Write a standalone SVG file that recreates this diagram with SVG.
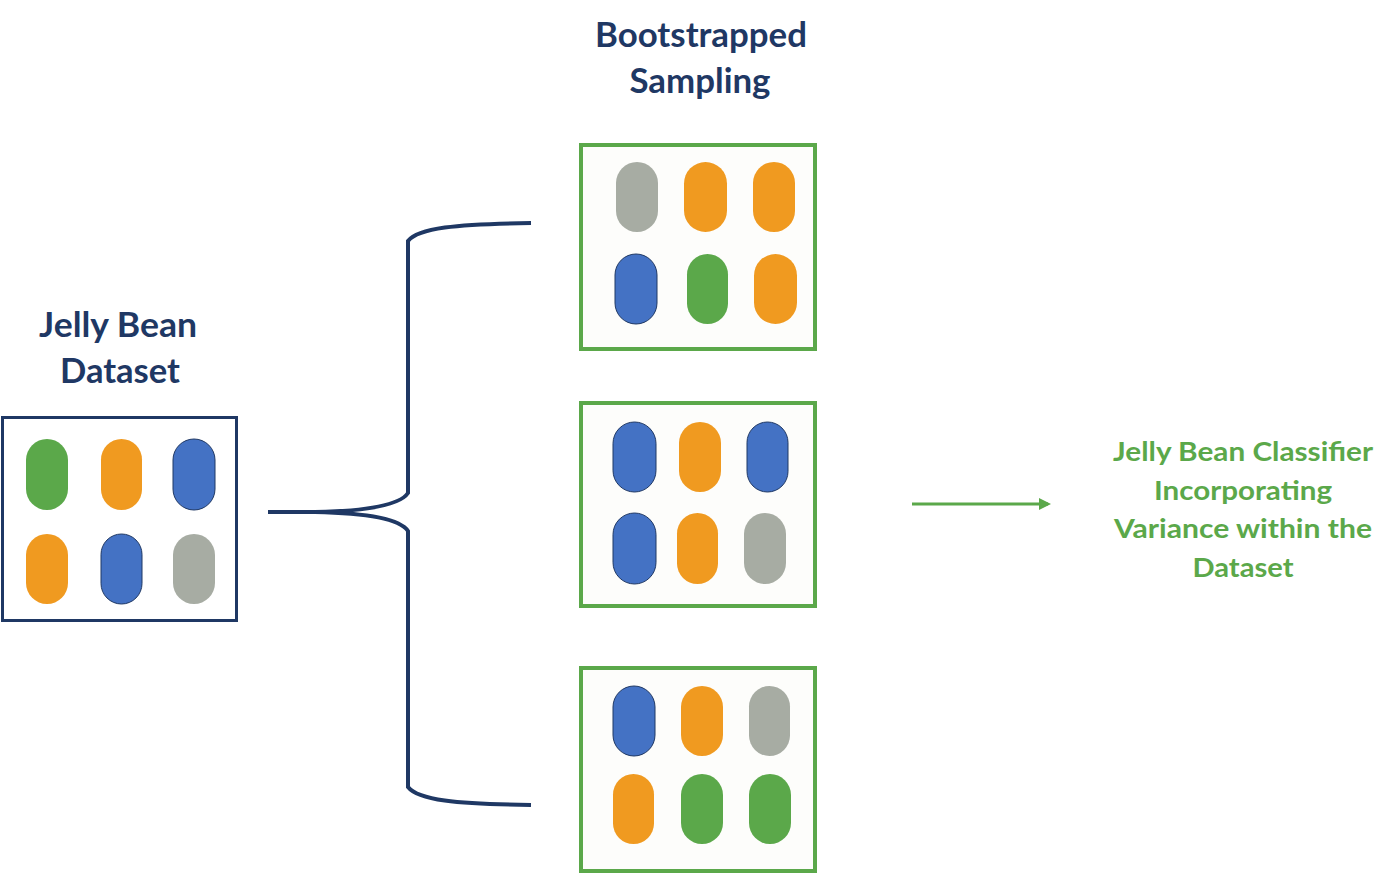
<svg xmlns="http://www.w3.org/2000/svg" width="1400" height="873" viewBox="0 0 1400 873">
<defs>
<style>
.title{font-family:Lato,"Liberation Sans",sans-serif;font-weight:bold;font-size:35px;fill:#1F3864;text-anchor:middle}
.result{font-family:Lato,"Liberation Sans",sans-serif;font-weight:bold;font-size:27px;fill:#5BA84A;text-anchor:middle}
.dbox{fill:#FFFFFF;stroke:#1F3864;stroke-width:3}
.sbox{fill:#FDFDFB;stroke:#5BA84A;stroke-width:4}
.g{fill:#5BA84A}
.o{fill:#F09A20}
.b{fill:#4472C4;stroke:#1F3864;stroke-width:1}
.y{fill:#A7ACA3}
.brace{fill:none;stroke:#1F3864;stroke-width:4}
.arrow{fill:none;stroke:#5BA84A;stroke-width:3}
</style>
<marker id="ah" markerWidth="4" markerHeight="4" refX="3" refY="2" orient="auto" markerUnits="strokeWidth">
<path d="M0,0 L4,2 L0,4 Z" fill="#5BA84A"/>
</marker>
</defs>
<rect width="1400" height="873" fill="#FFFFFF"/>

<g id="dataset">
<text class="title" x="118" y="337" textLength="158" lengthAdjust="spacingAndGlyphs">Jelly Bean</text>
<text class="title" x="120" y="383" textLength="120" lengthAdjust="spacingAndGlyphs">Dataset</text>
<rect class="dbox" x="2.5" y="417.5" width="234" height="203"/>
<rect class="g" x="26" y="439" width="42" height="71" rx="21"/>
<rect class="o" x="101" y="439" width="41" height="71" rx="20.5"/>
<rect class="b" x="173" y="439" width="42" height="71" rx="21"/>
<rect class="o" x="26" y="534" width="42" height="70" rx="21"/>
<rect class="b" x="101" y="534" width="41" height="70" rx="20.5"/>
<rect class="y" x="173" y="534" width="42" height="70" rx="21"/>
</g>

<g id="bootstrap-title">
<text class="title" x="701" y="47" textLength="212" lengthAdjust="spacingAndGlyphs">Bootstrapped</text>
<text class="title" x="700" y="93" textLength="141" lengthAdjust="spacingAndGlyphs">Sampling</text>
</g>

<g id="sample1">
<rect class="sbox" x="581" y="145" width="234" height="204"/>
<rect class="y" x="616" y="162" width="42" height="70" rx="21"/>
<rect class="o" x="684" y="162" width="43" height="70" rx="21.5"/>
<rect class="o" x="753" y="162" width="42" height="70" rx="21"/>
<rect class="b" x="615" y="254" width="42" height="70" rx="21"/>
<rect class="g" x="687" y="254" width="41" height="70" rx="20.5"/>
<rect class="o" x="754" y="254" width="43" height="70" rx="21.5"/>
</g>

<g id="sample2">
<rect class="sbox" x="581" y="403" width="234" height="203"/>
<rect class="b" x="613" y="422" width="43" height="70" rx="21.5"/>
<rect class="o" x="679" y="422" width="42" height="70" rx="21"/>
<rect class="b" x="747" y="422" width="41" height="70" rx="20.5"/>
<rect class="b" x="613" y="513" width="43" height="71" rx="21.5"/>
<rect class="o" x="677" y="513" width="41" height="71" rx="20.5"/>
<rect class="y" x="744" y="513" width="42" height="71" rx="21"/>
</g>

<g id="sample3">
<rect class="sbox" x="581" y="668" width="234" height="203"/>
<rect class="b" x="613" y="686" width="42" height="70" rx="21"/>
<rect class="o" x="681" y="686" width="42" height="70" rx="21"/>
<rect class="y" x="749" y="686" width="41" height="70" rx="20.5"/>
<rect class="o" x="613" y="774" width="41" height="70" rx="20.5"/>
<rect class="g" x="681" y="774" width="42" height="70" rx="21"/>
<rect class="g" x="749" y="774" width="42" height="70" rx="21"/>
</g>

<g id="result">
<text class="result" x="1243" y="461" textLength="260" lengthAdjust="spacingAndGlyphs">Jelly Bean Classifier</text>
<text class="result" x="1243" y="499.5" textLength="178" lengthAdjust="spacingAndGlyphs">Incorporating</text>
<text class="result" x="1243" y="538" textLength="258" lengthAdjust="spacingAndGlyphs">Variance within the</text>
<text class="result" x="1243" y="576.5" textLength="101" lengthAdjust="spacingAndGlyphs">Dataset</text>
</g>

<g id="connectors">
<path class="brace" d="M268,512 L320,512"/>
<path class="brace" d="M531,223 C455,224 418,228 408,241 L408,493 C400,505 365,511 315,512 C365,513 400,519 408,531 L408,787 C418,800 455,804 531,805"/>
<path class="arrow" d="M912,504 L1048,504" marker-end="url(#ah)"/>
</g>
</svg>
